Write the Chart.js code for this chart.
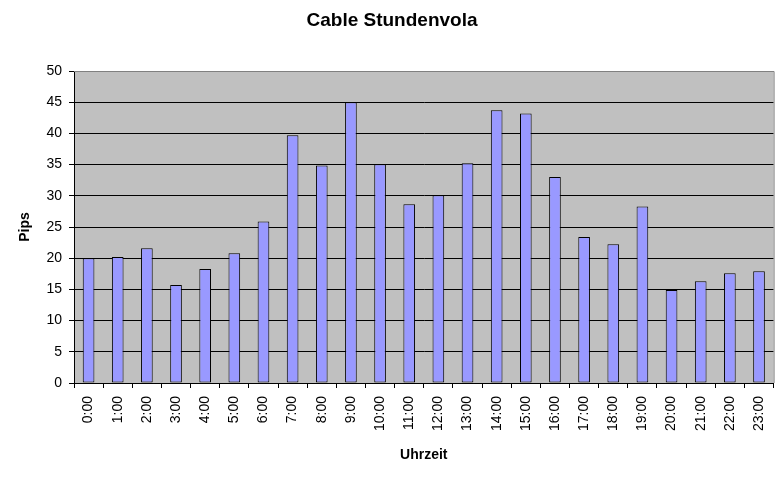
<!DOCTYPE html>
<html>
<head>
<meta charset="utf-8">
<script src="https://cdn.jsdelivr.net/npm/chart.js@4.4.0/dist/chart.umd.min.js"></script>
<style>
html,body{margin:0;padding:0;background:#fff;}
#wrap{width:784px;height:477px;position:relative;}
</style>
</head>
<body>
<div id="wrap"><canvas id="c" width="784" height="477"></canvas></div>
<script>
const categories = ["0:00","1:00","2:00","3:00","4:00","5:00","6:00","7:00","8:00","9:00","10:00","11:00","12:00","13:00","14:00","15:00","16:00","17:00","18:00","19:00","20:00","21:00","22:00","23:00"];
const pips = [20.0,20.2,21.6,15.7,18.25,20.8,25.9,39.7,34.85,45.0,35.05,28.65,30.1,35.2,43.7,43.2,33.0,23.4,22.25,28.3,14.9,16.3,17.6,17.9];
const yTicks = [0,5,10,15,20,25,30,35,40,45,50];
const chartTitle = "Cable Stundenvola";
const xTitle = "Uhrzeit";
const yTitle = "Pips";

const FONT = "'Liberation Sans', Arial, sans-serif";

const bgPlugin = {
  id: 'bg',
  beforeDraw(chart) {
    const {ctx, chartArea: a} = chart;
    ctx.save();
    ctx.fillStyle = '#C0C0C0';
    ctx.fillRect(a.left, a.top, a.right - a.left, a.bottom - a.top);
    ctx.restore();
  },
  afterDatasetsDraw(chart) {
    const {ctx, chartArea: a} = chart;
    ctx.save();
    ctx.strokeStyle = '#808080';
    ctx.lineWidth = 1;
    ctx.beginPath();
    ctx.moveTo(a.left, a.top + 0.5);
    ctx.lineTo(a.right + 0.5, a.top + 0.5);
    ctx.lineTo(a.right + 0.5, a.bottom);
    ctx.stroke();
    ctx.restore();
  },
  afterDraw(chart) {
    const {ctx} = chart;
    ctx.save();
    ctx.fillStyle = '#000';
    ctx.font = "bold 19px " + FONT;
    ctx.textAlign = 'center';
    ctx.textBaseline = 'middle';
    ctx.fillText(chartTitle, 392, 21);
    ctx.restore();
  }
};

new Chart(document.getElementById('c'), {
  type: 'bar',
  data: {
    labels: categories,
    datasets: [{
      data: pips,
      backgroundColor: '#9999FF',
      borderColor: '#000000',
      borderWidth: 1,
      borderSkipped: false,
      barPercentage: 0.40,
      categoryPercentage: 1.0
    }]
  },
  options: {
    responsive: false,
    animation: false,
    devicePixelRatio: 1,
    layout: { padding: { top: 71, right: 9, left: 0, bottom: 0 } },
    plugins: { legend: { display: false }, tooltip: { enabled: false }, title: { display: false } },
    scales: {
      x: {
        grid: { display: true, drawOnChartArea: false, drawTicks: true, tickLength: 5, color: '#000', offset: true },
        border: { display: true, color: '#000', width: 1 },
        ticks: { color: '#000', font: { family: FONT, size: 14 }, minRotation: 90, maxRotation: 90, autoSkip: false, padding: 8 },
        title: { display: true, text: xTitle, color: '#000', font: { family: FONT, size: 14, weight: 'bold' }, padding: { top: 0, bottom: 13 } },
        afterFit(scale) { scale.height = 477 - 383; }
      },
      y: {
        min: 0, max: 50,
        afterBuildTicks(scale) { scale.ticks = yTicks.map(v => ({ value: v })); },
        grid: { color: ctx => (ctx.tick && ctx.tick.value === 50) ? '#808080' : '#000', tickColor: '#000', tickLength: 5, drawTicks: true },
        border: { display: true, color: '#000', width: 1 },
        ticks: { color: '#000', font: { family: FONT, size: 14 }, padding: 7 },
        title: { display: true, text: yTitle, color: '#000', font: { family: FONT, size: 14, weight: 'bold' }, padding: { top: 17, bottom: 0 } },
        afterFit(scale) { scale.width = 74; }
      }
    }
  },
  plugins: [bgPlugin]
});
</script>
</body>
</html>
